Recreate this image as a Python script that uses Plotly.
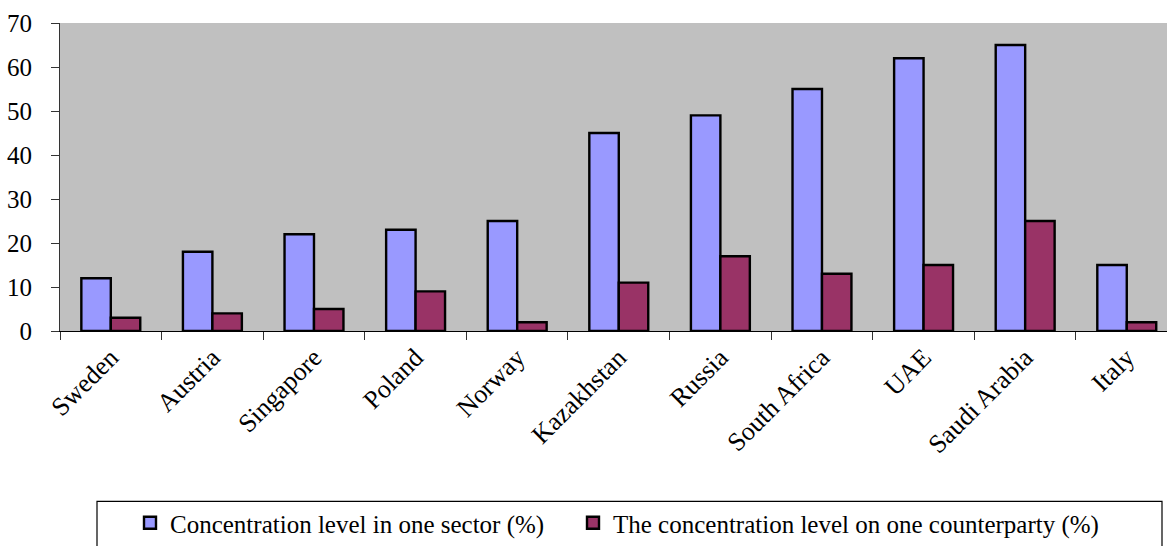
import plotly.graph_objects as go

# Countries and the two concentration measures (%)
countries = ["Sweden", "Austria", "Singapore", "Poland", "Norway", "Kazakhstan",
             "Russia", "South Africa", "UAE", "Saudi Arabia", "Italy"]
sector_pct = [12, 18, 22, 23, 25, 45, 49, 55, 62, 65, 15]
counterparty_pct = [3, 4, 5, 9, 2, 11, 17, 13, 15, 25, 2]
y_ticks = [0, 10, 20, 30, 40, 50, 60, 70]

FONT = "Liberation Serif"
FS = 25

W, H = 1167, 546
ML, MT, MB = 60, 23, 214
pw = W - ML
ph = H - MT - MB


def px_x(x):
    return (x - ML) / pw


def px_y(y):
    return -(y - (MT + ph)) / ph


fig = go.Figure()
fig.add_trace(go.Bar(
    x=countries, y=sector_pct,
    name="Concentration level in one sector (%)",
    marker=dict(color="#9999FF", line=dict(color="black", width=2.4)),
    legend="legend",
))
fig.add_trace(go.Bar(
    x=countries, y=counterparty_pct,
    name="The concentration level on one counterparty (%)",
    marker=dict(color="#993366", line=dict(color="black", width=2.4)),
    legend="legend2",
))

legend_common = dict(
    orientation="h", xanchor="left", yanchor="middle",
    y=px_y(525),
    bgcolor="rgba(0,0,0,0)", borderwidth=0,
    font=dict(family=FONT, size=FS, color="black"),
)

fig.update_layout(
    width=W, height=H,
    margin=dict(l=ML, r=0, t=MT, b=MB, pad=0),
    paper_bgcolor="white",
    plot_bgcolor="#C0C0C0",
    barmode="group",
    bargap=0.42,
    bargroupgap=0,
    font=dict(family=FONT, size=FS, color="black"),
    showlegend=True,
    legend=dict(x=px_x(130), **legend_common),
    legend2=dict(x=px_x(573), **legend_common),
    xaxis=dict(
        type="category",
        range=[-0.5, 10.396],
        tickangle=-45,
        ticks="outside", tickson="boundaries", ticklen=8,
        tickcolor="#333333", tickwidth=1,
        showline=True, linecolor="black", linewidth=1,
        showgrid=False,
        tickfont=dict(family=FONT, size=26, color="black"),
    ),
    yaxis=dict(
        range=[0, 70],
        tickvals=y_ticks,
        ticks="outside", ticklen=8, tickcolor="#333333", tickwidth=1,
        showline=True, linecolor="#333333", linewidth=1,
        showgrid=False, zeroline=False,
        ticklabelstandoff=14,
        tickfont=dict(family=FONT, size=FS, color="black"),
    ),
    shapes=[dict(
        type="rect", xref="paper", yref="paper",
        x0=px_x(97), x1=px_x(1162),
        y0=px_y(560), y1=px_y(503),
        line=dict(color="black", width=1.2),
        fillcolor="rgba(0,0,0,0)",
        layer="below",
    )],
)

fig.write_html("out.html")
